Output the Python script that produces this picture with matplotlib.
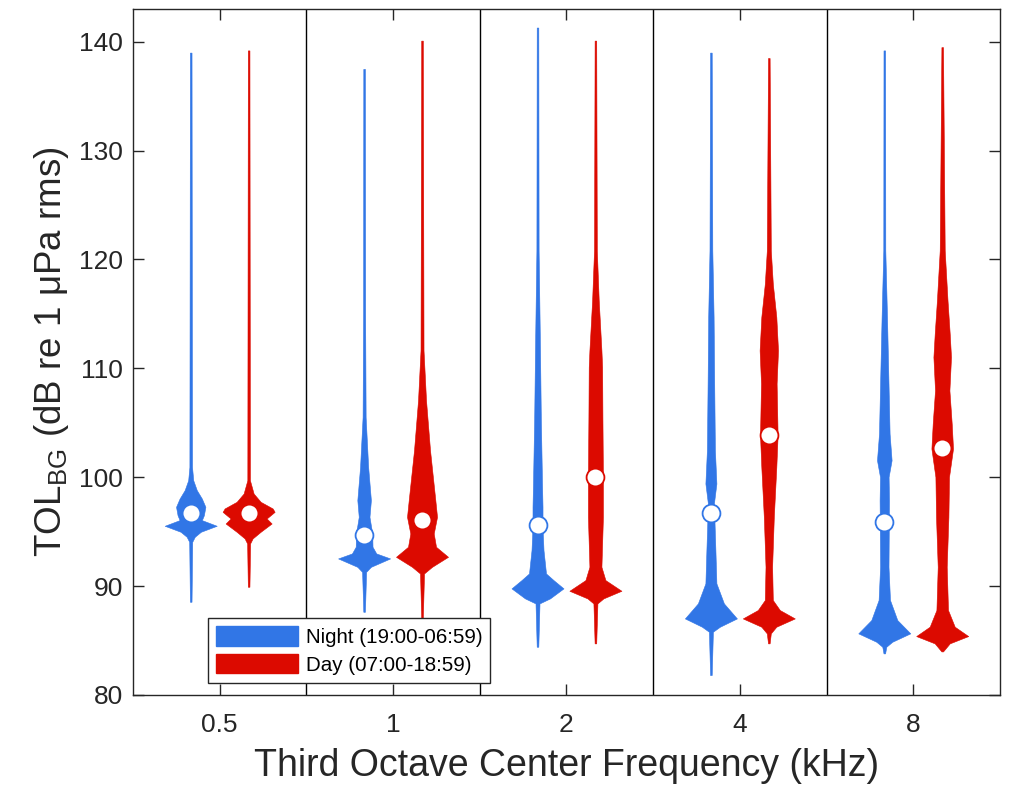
import numpy as np
import matplotlib
matplotlib.use("Agg")
import matplotlib.pyplot as plt
from matplotlib.patches import Patch

# ---------------- data ----------------
freq_labels = ["0.5", "1", "2", "4", "8"]
series_labels = ["Night (19:00-06:59)", "Day (07:00-18:59)"]

night_median = [96.7, 94.7, 95.6, 96.7, 95.9]
day_median = [96.7, 96.1, 100.0, 103.9, 102.7]

# violin profiles: level (dB) and relative half-width
night_05_y = [88.56, 94.07, 94.53, 94.99, 95.54, 96.06, 96.51, 97.28, 98.04, 98.81, 99.72, 100.94, 139.0]
night_05_w = [0.8, 1.5, 4, 10, 25.7, 11, 13, 14.5, 11, 6, 2.5, 1.3, 0.8]
day_05_y = [89.94, 93.92, 94.38, 94.99, 95.75, 96.21, 96.82, 97.13, 97.74, 98.5, 99.72, 139.2]
day_05_w = [0.8, 1.5, 4, 12, 23, 18, 26, 24, 12, 5, 1.3, 0.8]

night_1_y = [87.64, 91.31, 91.77, 92.54, 93.0, 93.61, 94.83, 96.36, 97.89, 100.94, 105.53, 115.0, 137.5]
night_1_w = [0.8, 2, 6.7, 25.7, 12, 8.3, 8, 5.3, 6.7, 4, 1.5, 1.0, 0.8]
day_1_y = [87.03, 91.16, 91.77, 92.69, 93.61, 94.83, 96.36, 97.89, 102.48, 107.06, 111.65, 140.1]
day_1_w = [0.8, 2, 10, 26, 14, 11.7, 15, 13.3, 8, 4, 1.5, 0.8]

night_2_y = [84.43, 88.41, 88.87, 89.79, 90.55, 91.16, 93.30, 95.44, 97.28, 99.42, 105.53, 111.65, 120.83, 141.3]
night_2_w = [0.8, 2, 12.5, 26, 16, 8.5, 6, 5, 5, 4.5, 3.3, 2.5, 1.1, 0.8]
day_2_y = [84.74, 88.41, 88.87, 89.57, 90.55, 91.77, 96.36, 100.03, 105.53, 110.12, 111.65, 116.24, 120.83, 140.1]
day_2_w = [0.8, 2, 8, 26, 10, 6, 7.5, 7.5, 7, 6.7, 6, 3.3, 1.4, 0.8]

night_4_y = [81.83, 85.81, 86.27, 87.03, 88.41, 90.25, 93.30, 97.58, 99.42, 102.48, 108.60, 114.71, 120.83, 139.0]
night_4_w = [0.8, 2, 9, 26, 13, 5.5, 4.5, 3, 5.5, 4, 3.3, 2.7, 1.4, 0.8]
day_4_y = [84.74, 85.66, 86.27, 87.03, 87.80, 88.72, 91.77, 96.36, 100.94, 103.85, 108.60, 111.65, 114.71, 117.77, 120.83, 138.5]
day_4_w = [0.8, 2, 7.5, 26, 11, 4, 3.3, 5, 7.5, 8.8, 7.8, 9.2, 7.5, 4, 2, 0.8]

night_8_y = [83.82, 84.43, 84.89, 85.66, 86.88, 88.72, 91.77, 97.89, 100.03, 101.56, 104.0, 108.60, 114.71, 120.83, 139.2]
night_8_w = [0.8, 2, 8, 26, 13, 5.7, 4.2, 4.7, 4.3, 7.3, 5.3, 4.2, 2.7, 1, 0.8]
day_8_y = [84.0, 84.13, 84.74, 85.41, 86.27, 87.80, 91.77, 96.36, 100.03, 102.63, 104.92, 107.98, 111.04, 113.18, 116.24, 120.83, 139.5]
day_8_w = [0.8, 2, 7.5, 26, 12.5, 5.8, 4.5, 6.2, 6.8, 10.8, 9.5, 7.2, 8.8, 7.5, 5.3, 2.5, 0.8]

night_profiles = [(night_05_y, night_05_w), (night_1_y, night_1_w), (night_2_y, night_2_w),
                  (night_4_y, night_4_w), (night_8_y, night_8_w)]
day_profiles = [(day_05_y, day_05_w), (day_1_y, day_1_w), (day_2_y, day_2_w),
                (day_4_y, day_4_w), (day_8_y, day_8_w)]

# ---------------- style ----------------
BLUE = "#3176E6"
RED = "#DC0A00"
TXT = "#262626"
plt.rcParams["font.family"] = ["Liberation Sans", "DejaVu Sans"]
plt.rcParams["mathtext.fontset"] = "custom"
plt.rcParams["mathtext.rm"] = "Liberation Sans"

fig = plt.figure(figsize=(10.12, 7.86), dpi=100)
ax = fig.add_axes([0.1314, 0.1158, 0.8567, 0.8727])

centers = np.arange(len(freq_labels)) + 0.5
offset = 0.167


def make_stats(profiles, medians):
    stats = []
    for (yy, ww), med in zip(profiles, medians):
        yy = np.asarray(yy, float)
        ww = np.asarray(ww, float)
        stats.append(dict(coords=yy, vals=ww, mean=med, median=med,
                          min=yy.min(), max=yy.max()))
    return stats


for profiles, meds, col, sign in [(night_profiles, night_median, BLUE, -1),
                                  (day_profiles, day_median, RED, 1)]:
    pos = centers + sign * offset
    parts = ax.violin(make_stats(profiles, meds), positions=pos, widths=0.30,
                      showmeans=False, showextrema=False, showmedians=False)
    for b in parts["bodies"]:
        b.set_facecolor(col)
        b.set_edgecolor(col)
        b.set_linewidth(0.4)
        b.set_alpha(1)
    ax.scatter(pos, meds, s=165, facecolor="white", edgecolor=col,
               linewidth=1.3, zorder=5)

for xs in range(1, len(freq_labels)):
    ax.axvline(xs, color="black", lw=1.0, zorder=1)

ax.set_xlim(0, len(freq_labels))
ax.set_ylim(80, 143)
ax.set_xticks(centers)
ax.set_xticklabels(freq_labels)
ax.set_yticks(np.arange(80, 141, 10))
ax.tick_params(direction="in", length=8, width=1, colors=TXT,
               labelsize=19, top=True, right=True, pad=13)
ax.tick_params(axis="y", pad=7)
for sp in ax.spines.values():
    sp.set_color(TXT)
    sp.set_linewidth(1.0)

ax.set_xlabel("Third Octave Center Frequency (kHz)", fontsize=27, color=TXT, labelpad=8)
ax.set_ylabel(r"TOL$_{\mathregular{BG}}$ (dB re 1 μPa rms)", fontsize=26.5, color=TXT, labelpad=6)

handles = [Patch(facecolor=BLUE, edgecolor=BLUE), Patch(facecolor=RED, edgecolor=RED)]
leg = ax.legend(handles, series_labels, loc="lower left",
                bbox_to_anchor=(0.0865, 0.0175), borderaxespad=0,
                fontsize=14.8, handlelength=4.0, handleheight=1.05,
                fancybox=False, framealpha=1, edgecolor=TXT,
                borderpad=0.4, labelspacing=0.35, handletextpad=0.35)
leg.get_frame().set_linewidth(1.0)
leg.set_zorder(10)

fig.savefig("out.png", dpi=100)
